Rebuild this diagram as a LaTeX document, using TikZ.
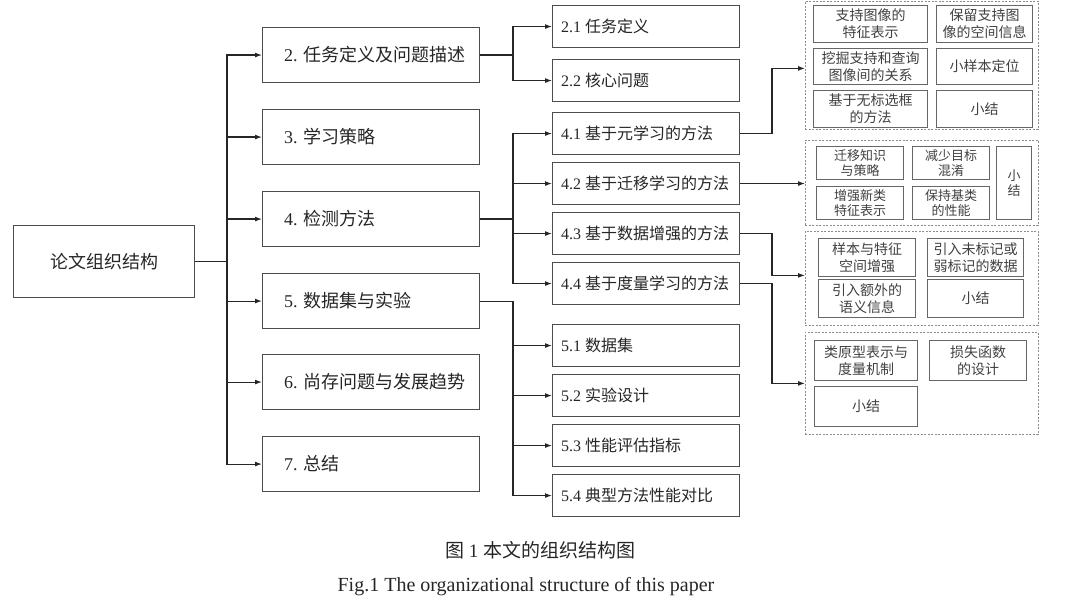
\documentclass[tikz,border=0pt]{standalone}
\usepackage{fontspec}
\setmainfont{Liberation Serif}
\newfontfamily\cjk{Noto Sans CJK SC}
\usetikzlibrary{arrows.meta}
\begin{document}
\begin{tikzpicture}[x=1pt,y=-1pt,
  bx/.style={draw=black!70, line width=1.1pt, fill=white, inner sep=0pt, rectangle, anchor=north west},
  lvone/.style={bx, minimum width=217pt, minimum height=55pt},
  lvtwo/.style={bx, minimum width=187pt, minimum height=42pt},
  lab/.style={anchor=west, inner sep=0pt, text=black!85, font=\fontsize{18}{21}\selectfont},
  labs/.style={lab, font=\fontsize{16}{19}\selectfont},
  sbx/.style={draw=black!60, line width=1pt, inner sep=0pt, rectangle, anchor=north west, align=center, text=black!75, font=\fontsize{14}{17}\selectfont\cjk},
  sbxs/.style={sbx, font=\fontsize{13}{15}\selectfont\cjk},
  gbx/.style={draw=black!45, dash pattern=on 2pt off 1.5pt, line width=0.8pt, inner sep=0pt, rectangle, anchor=north west},
  arr/.style={draw=black!85, line width=1.1pt, -{Latex[length=7pt,width=5pt]}},
  captxt/.style={inner sep=0pt, text=black!85}
]
\useasboundingbox (0,0) rectangle (1080,615);

% bus coordinates
\coordinate (bus1) at (227,0);
\coordinate (bus2) at (513,0);
\coordinate (bus3) at (772,0);

% root
\node[bx, minimum width=181pt, minimum height=72pt, font=\fontsize{18}{21}\selectfont\cjk, text=black!85] (root) at (13,225) {论文组织结构};

% level one
\node[lvone] (s2) at (262,27) {};
\node[lab] (s2t) at ([xshift=22pt]s2.west) {2. {\cjk 任务定义及问题描述}};
\node[lvone] (s3) at (262,109) {};
\node[lab] (s3t) at ([xshift=22pt]s3.west) {3. {\cjk 学习策略}};
\node[lvone] (s4) at (262,191) {};
\node[lab] (s4t) at ([xshift=22pt]s4.west) {4. {\cjk 检测方法}};
\node[lvone] (s5) at (262,273) {};
\node[lab] (s5t) at ([xshift=22pt]s5.west) {5. {\cjk 数据集与实验}};
\node[lvone] (s6) at (262,354) {};
\node[lab] (s6t) at ([xshift=22pt]s6.west) {6. {\cjk 尚存问题与发展趋势}};
\node[lvone] (s7) at (262,436) {};
\node[lab] (s7t) at ([xshift=22pt]s7.west) {7. {\cjk 总结}};

% level two
\node[lvtwo] (a21) at (552,5) {};
\node[labs] (a21t) at ([xshift=9pt]a21.west) {2.1 {\cjk 任务定义}};
\node[lvtwo] (a22) at (552,59) {};
\node[labs] (a22t) at ([xshift=9pt]a22.west) {2.2 {\cjk 核心问题}};
\node[lvtwo] (a41) at (552,112) {};
\node[labs] (a41t) at ([xshift=9pt]a41.west) {4.1 {\cjk 基于元学习的方法}};
\node[lvtwo] (a42) at (552,162) {};
\node[labs] (a42t) at ([xshift=9pt]a42.west) {4.2 {\cjk 基于迁移学习的方法}};
\node[lvtwo] (a43) at (552,212) {};
\node[labs] (a43t) at ([xshift=9pt]a43.west) {4.3 {\cjk 基于数据增强的方法}};
\node[lvtwo] (a44) at (552,262) {};
\node[labs] (a44t) at ([xshift=9pt]a44.west) {4.4 {\cjk 基于度量学习的方法}};
\node[lvtwo] (a51) at (552,324) {};
\node[labs] (a51t) at ([xshift=9pt]a51.west) {5.1 {\cjk 数据集}};
\node[lvtwo] (a52) at (552,374) {};
\node[labs] (a52t) at ([xshift=9pt]a52.west) {5.2 {\cjk 实验设计}};
\node[lvtwo] (a53) at (552,424) {};
\node[labs] (a53t) at ([xshift=9pt]a53.west) {5.3 {\cjk 性能评估指标}};
\node[lvtwo] (a54) at (552,474) {};
\node[labs] (a54t) at ([xshift=9pt]a54.west) {5.4 {\cjk 典型方法性能对比}};

% group 1
\node[gbx, minimum width=233pt, minimum height=128pt] (g1) at (805,1) {};
\node[sbx, minimum width=114pt, minimum height=37pt] (r11) at (813,5) {支持图像的\\特征表示};
\node[sbx, minimum width=96pt, minimum height=37pt] (r12) at (936,5) {保留支持图\\像的空间信息};
\node[sbx, minimum width=114pt, minimum height=36pt] (r13) at (813,48) {挖掘支持和查询\\图像间的关系};
\node[sbx, minimum width=96pt, minimum height=36pt] (r14) at (936,48) {小样本定位};
\node[sbx, minimum width=114pt, minimum height=37pt] (r15) at (813,90) {基于无标选框\\的方法};
\node[sbx, minimum width=96pt, minimum height=37pt] (r16) at (936,90) {小结};

% group 2
\node[gbx, minimum width=233pt, minimum height=85pt] (g2) at (805,140) {};
\node[sbxs, minimum width=87pt, minimum height=33pt] (r21) at (816,146) {迁移知识\\与策略};
\node[sbxs, minimum width=77pt, minimum height=33pt] (r22) at (912,146) {减少目标\\混淆};
\node[sbxs, minimum width=87pt, minimum height=33pt] (r23) at (816,186) {增强新类\\特征表示};
\node[sbxs, minimum width=77pt, minimum height=33pt] (r24) at (912,186) {保持基类\\的性能};
\node[sbxs, minimum width=35pt, minimum height=73pt] (r25) at (996,146) {小\\结};

% group 3
\node[gbx, minimum width=233pt, minimum height=94pt] (g3) at (805,231) {};
\node[sbx, minimum width=97pt, minimum height=38pt] (r31) at (818,238) {样本与特征\\空间增强};
\node[sbx, minimum width=96pt, minimum height=38pt] (r32) at (927,238) {引入未标记或\\弱标记的数据};
\node[sbx, minimum width=97pt, minimum height=38pt] (r33) at (818,279) {引入额外的\\语义信息};
\node[sbx, minimum width=96pt, minimum height=38pt] (r34) at (927,279) {小结};

% group 4
\node[gbx, minimum width=233pt, minimum height=102pt] (g4) at (805,332) {};
\node[sbx, minimum width=103pt, minimum height=40pt] (r41) at (814,340) {类原型表示与\\度量机制};
\node[sbx, minimum width=97pt, minimum height=40pt] (r42) at (929,340) {损失函数\\的设计};
\node[sbx, minimum width=103pt, minimum height=40pt] (r43) at (814,386) {小结};

% connectors: root
\foreach \t in {s2,s3,s4,s5,s6,s7}
  \draw[arr] (root.east) -- (root.east -| bus1) |- (\t.west);
% level two
\foreach \t in {a21,a22}
  \draw[arr] (s2.east) -- (s2.east -| bus2) |- (\t.west);
\foreach \t in {a41,a42,a43,a44}
  \draw[arr] (s4.east) -- (s4.east -| bus2) |- (\t.west);
\foreach \t in {a51,a52,a53,a54}
  \draw[arr] (s5.east) -- (s5.east -| bus2) |- (\t.west);
% right
\draw[arr] (a41.east) -- (a41.east -| bus3) |- ([yshift=-3pt]g1.west);
\draw[arr] (a42.east) -- (a42.east -| g2.west);
\draw[arr] (a43.east) -- (a43.east -| bus3) |- ([yshift=3pt]g3.west);
\draw[arr] (a44.east) -- (a44.east -| bus3) |- (g4.west);

% captions
\node[captxt, font=\fontsize{19}{22}\selectfont] (c1) at (540,550) {{\cjk 图} 1 {\cjk 本文的组织结构图}};
\node[captxt, font=\fontsize{20}{24}\selectfont] (c2) at (526,587) {Fig.1 The organizational structure of this paper};
\end{tikzpicture}
\end{document}
